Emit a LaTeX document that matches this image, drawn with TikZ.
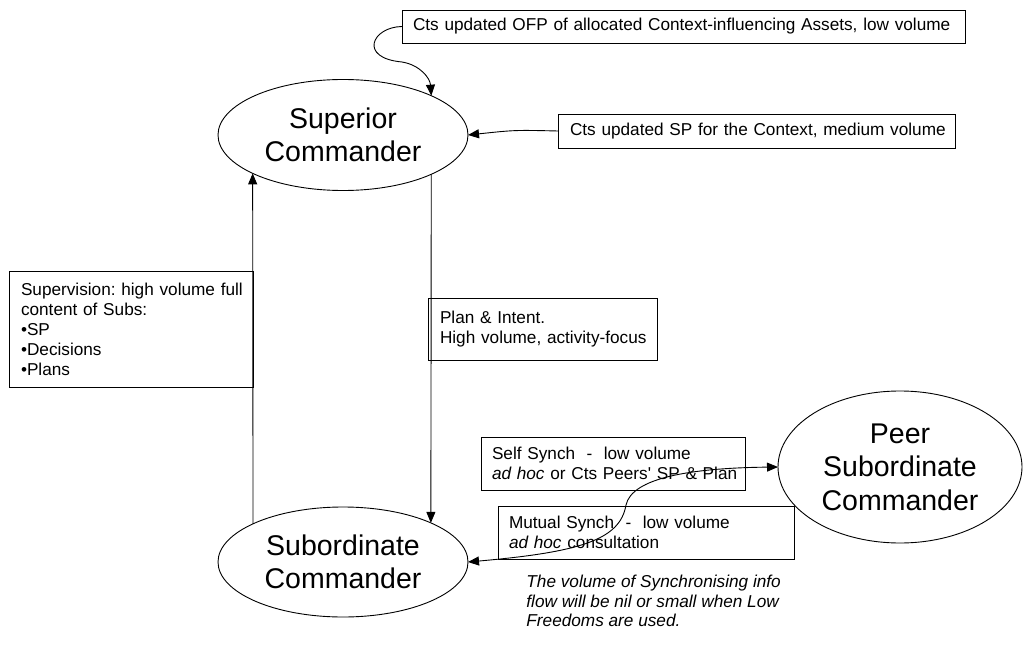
\documentclass[tikz,border=0pt]{standalone}
\usepackage{fontspec}
\setmainfont{Liberation Sans}
\usetikzlibrary{arrows.meta,shapes.geometric}
\frenchspacing
\newcommand{\oneline}[1]{\mbox{#1}}
\begin{document}
\begin{tikzpicture}[x=1pt,y=-1pt,
  line width=0.9pt,
  tip/.style={-{Triangle[length=11pt,width=9pt]}},
  twotip/.style={{Triangle[length=11pt,width=9pt]}-{Triangle[length=11pt,width=9pt]}},
  cmd/.style={draw,ellipse,inner sep=0pt,outer sep=0pt,align=center,
    font=\fontsize{28.5}{33.5}\selectfont},
  infobox/.style={draw,rectangle,anchor=north west,inner ysep=0pt,outer sep=0pt,
    align=left,font=\fontsize{17.2}{20}\selectfont},
  note/.style={anchor=north west,inner sep=0pt,align=left,
    font=\fontsize{17.2}{19.5}\selectfont\itshape}
]
\useasboundingbox (0,0) rectangle (1024,660);

% commanders
\node[cmd,minimum width=250pt,minimum height=111pt] (sup) at (343,135) {Superior\\Commander};
\node[cmd,minimum width=250pt,minimum height=110pt] (sub) at (343,562) {Subordinate\\Commander};
\node[cmd,minimum width=244pt,minimum height=152pt] (peer) at (900,467) {Peer\\Subordinate\\Commander};

% boxes
\node[infobox,minimum width=563pt,minimum height=33pt,inner xsep=11pt,text width=541pt] (ofp) at (402,10)
  {\oneline{Cts updated OFP of allocated Context-influencing Assets, low volume}};
\node[infobox,minimum width=397pt,minimum height=34pt,inner xsep=12pt,text width=373pt] (sp) at (558,114)
  {\oneline{Cts updated SP for the Context, medium volume}};
\node[infobox,minimum width=229pt,minimum height=62pt,inner xsep=12pt,text width=205pt] (plan) at (428,298)
  {\oneline{Plan \& Intent.}\\\oneline{High volume, activity-focus}};
\node[infobox,minimum width=244pt,minimum height=116pt,inner xsep=12pt,text width=220pt] (supv) at (9,271)
  {\oneline{Supervision: high volume full}\\\oneline{content of Subs:}\\\oneline{•SP}\\\oneline{•Decisions}\\\oneline{•Plans}};
\node[infobox,minimum width=264pt,minimum height=53pt,inner xsep=11pt,text width=242pt] (self) at (481,437)
  {\oneline{Self Synch\ \ -\ \ low volume}\\\oneline{\textit{ad hoc} or Cts Peers\textquotesingle\ SP \& Plan}};
\node[infobox,minimum width=296pt,minimum height=53pt,inner xsep=11pt,text width=274pt] (mut) at (498,506)
  {\oneline{Mutual Synch\ \ -\ \ low volume}\\\oneline{\textit{ad hoc} consultation}};

% note
\node[note] (nt) at (526,575)
  {The volume of Synchronising info\\flow will be nil or small when Low\\Freedoms are used.};

% connectors
\draw[tip] (ofp.west) .. controls (372,27) and (358,58) .. (402,62)
  .. controls (420,65) and (430,78) .. (sup.24.5);
\draw[tip] (sp.west) .. controls (515,130) .. (sup.east);
\draw[tip] (sup.-24.4) -- (sub.24.4);
\draw[tip] (sub.157) -- (sup.-157);
\draw[twotip] (sub.east) .. controls (580,552) and (620,540) .. (626,505)
  .. controls (632,478) and (690,468) .. (peer.west);
\end{tikzpicture}
\end{document}
